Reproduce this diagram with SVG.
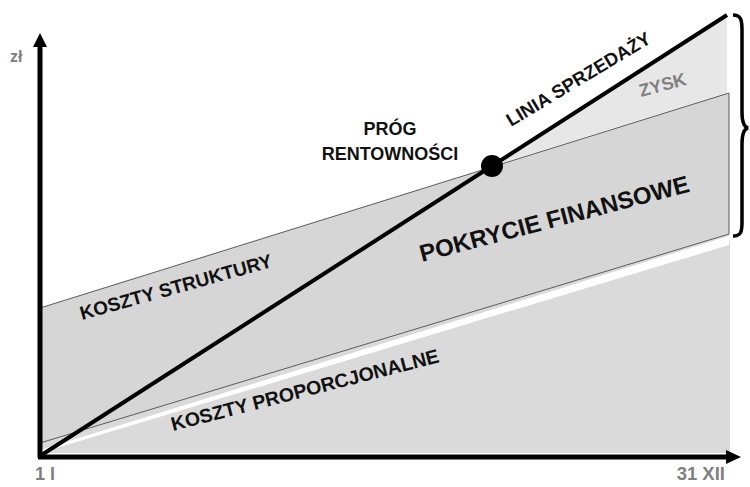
<svg xmlns="http://www.w3.org/2000/svg" width="750" height="487" viewBox="0 0 750 487">
  <style>
    .lbl { font-family: "Liberation Sans", Arial, sans-serif; font-weight: bold; }
    .dark { fill: #111111; }
    .grey { fill: #808080; }
  </style>
  <rect x="0" y="0" width="750" height="487" fill="#ffffff"/>

  <!-- areas -->
  <g id="areas">
    <!-- proportional costs (backing reaches up to fixed-cost band) -->
    <polygon id="proportional" points="40,443 729,234 730,244 730,453 40,453" fill="#dadada"/>
    <!-- white separating strip -->
    <polygon points="40,450 729,236 729,245 40,453" fill="#ffffff"/>
    <!-- profit wedge -->
    <polygon id="profit" points="492,166 727,15 727,93" fill="#e7e7e7"/>
    <!-- structure / fixed costs band -->
    <polygon id="structure" points="40,308 729,93 729,234 40,443" fill="#d6d6d6" stroke="#5a5a5a" stroke-width="1"/>
  </g>

  <!-- connectors -->
  <g id="connectors">
    <line id="sales-line" x1="40" y1="456" x2="727" y2="15" stroke="#000" stroke-width="4"/>
    <line id="y-axis" x1="40" y1="458" x2="40" y2="44" stroke="#000" stroke-width="5"/>
    <polygon points="33,47 40,33 47,47" fill="#000"/>
    <line id="x-axis" x1="38" y1="457" x2="728" y2="457" stroke="#000" stroke-width="5"/>
    <polygon points="726,450 741,457 726,464" fill="#000"/>
    <path id="brace" d="M733,15 C741,15 742,20 742,30 L742,112 C742,122 744,127 748,128 C744,129 742,134 742,144 L742,222 C742,232 741,236 733,236" fill="none" stroke="#000" stroke-width="3.5"/>
  </g>

  <g id="break-even">
    <circle cx="492" cy="166" r="11" fill="#000"/>
    <text class="lbl dark" x="390" y="135" font-size="18" text-anchor="middle">PRÓG</text>
    <text class="lbl dark" x="390" y="160" font-size="18" text-anchor="middle">RENTOWNOŚCI</text>
  </g>

  <g id="labels">
    <text class="lbl grey" x="10" y="62" font-size="16">zł</text>
    <text class="lbl grey" x="35" y="480" font-size="18">1 I</text>
    <text class="lbl grey" x="725" y="480" font-size="18.5" text-anchor="end">31 XII</text>
    <text class="lbl dark" font-size="18.5" transform="translate(511,127) rotate(-31)">LINIA SPRZEDAŻY</text>
    <text class="lbl grey" font-size="18" transform="translate(641,97) rotate(-15)">ZYSK</text>
    <text class="lbl dark" font-size="24" transform="translate(422,262) rotate(-14.7)">POKRYCIE FINANSOWE</text>
    <text class="lbl dark" font-size="19" transform="translate(82,320) rotate(-15.6)">KOSZTY STRUKTURY</text>
    <text class="lbl dark" font-size="19.5" transform="translate(173,431) rotate(-14.5)">KOSZTY PROPORCJONALNE</text>
  </g>
</svg>
